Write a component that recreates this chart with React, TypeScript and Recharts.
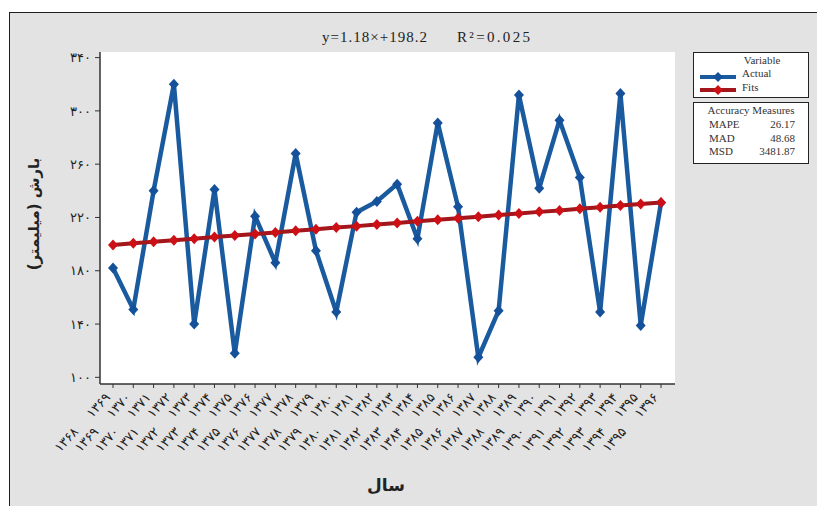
import React from 'react';
import { LineChart, Line, XAxis, YAxis, CartesianGrid } from 'recharts';

const periods = [
  '۱۳۶۸-۱۳۶۹', '۱۳۶۹-۱۳۷۰', '۱۳۷۰-۱۳۷۱', '۱۳۷۱-۱۳۷۲', '۱۳۷۲-۱۳۷۳', '۱۳۷۳-۱۳۷۴', '۱۳۷۴-۱۳۷۵',
  '۱۳۷۵-۱۳۷۶', '۱۳۷۶-۱۳۷۷', '۱۳۷۷-۱۳۷۸', '۱۳۷۸-۱۳۷۹', '۱۳۷۹-۱۳۸۰', '۱۳۸۰-۱۳۸۱', '۱۳۸۱-۱۳۸۲',
  '۱۳۸۲-۱۳۸۳', '۱۳۸۳-۱۳۸۴', '۱۳۸۴-۱۳۸۵', '۱۳۸۵-۱۳۸۶', '۱۳۸۶-۱۳۸۷', '۱۳۸۷-۱۳۸۸', '۱۳۸۸-۱۳۸۹',
  '۱۳۸۹-۱۳۹۰', '۱۳۹۰-۱۳۹۱', '۱۳۹۱-۱۳۹۲', '۱۳۹۲-۱۳۹۳', '۱۳۹۳-۱۳۹۴', '۱۳۹۴-۱۳۹۵', '۱۳۹۵-۱۳۹۶',
];

// rainfall (mm)
const actual = [182, 151, 240, 320, 140, 241, 118, 221, 186, 268, 195, 149, 224, 232, 245, 204, 291, 228, 115, 150, 312, 242, 293, 250, 149, 313, 139, 231];

// trend line y = 1.18x + 198.2
const fits = [199.4, 200.6, 201.7, 202.9, 204.1, 205.3, 206.5, 207.6, 208.8, 210.0, 211.2, 212.4, 213.5, 214.7, 215.9, 217.1, 218.3, 219.4, 220.6, 221.8, 223.0, 224.2, 225.3, 226.5, 227.7, 228.9, 230.1, 231.2];

const yTicks = [100, 140, 180, 220, 260, 300, 340];

const seriesNames = ['Actual', 'Fits'];
const accuracyLabels = ['MAPE', 'MAD', 'MSD'];
const accuracyValues = ['26.17', '48.68', '3481.87'];

const BLUE = '#1a5a9e';
const BLUE_DOT = '#15509a';
const RED = '#a3161b';
const RED_DOT = '#cc1016';

const data = periods.map((p, i) => ({ period: p, actual: actual[i], fits: fits[i] }));

const toFa = (v: number | string) => String(v).replace(/\d/g, (d) => '۰۱۲۳۴۵۶۷۸۹'[+d]);

const diamond = (color: string) => (props: any) => {
  const { cx, cy, index } = props;
  if (cx == null || cy == null) return <g key={index} />;
  return (
    <polygon
      key={index}
      points={`${cx},${cy - 5.5} ${cx + 5},${cy} ${cx},${cy + 5.5} ${cx - 5},${cy}`}
      fill={color}
    />
  );
};

const PeriodTick = (props: any) => {
  const { x, y, payload } = props;
  const [a, b] = String(payload.value).split('-');
  const st = { fontSize: 13, fill: '#222', fontFamily: 'DejaVu Sans', direction: 'ltr' as const };
  return (
    <g transform={`translate(${x - 2},${y + 8}) rotate(-47)`}>
      <text x={0} y={0} textAnchor="end" style={st}>{b}</text>
      <text x={-47} y={0} textAnchor="end" style={st}>{a}</text>
    </g>
  );
};

const LegendSample = ({ line, dot }: { line: string; dot: string }) => (
  <svg width={36} height={10} style={{ display: 'block' }}>
    <line x1={0} y1={5} x2={36} y2={5} stroke={line} strokeWidth={4} />
    <polygon points="18,0 23,5 18,10 13,5" fill={dot} />
  </svg>
);

export default function App() {
  const serif = '"Liberation Serif", "Times New Roman", serif';
  return (
    <div style={{ position: 'absolute', left: 0, top: 0, width: 817, height: 506, background: '#fff', overflow: 'hidden' }}>
      <div
        style={{
          position: 'absolute', left: 9, top: 12, width: 830, height: 520,
          background: '#e3e3e3', borderLeft: '1.5px solid #1e1e1e', borderTop: '1.5px solid #1e1e1e',
        }}
      />
      <div style={{ position: 'absolute', left: 0, top: 0 }}>
        <LineChart width={817} height={506} data={data} margin={{ top: 52, right: 142, bottom: 12, left: 40 }}>
          <CartesianGrid fill="#fff" horizontal={false} vertical={false} />
          <XAxis
            dataKey="period"
            interval={0}
            tick={<PeriodTick />}
            tickSize={4}
            height={110}
            padding={{ left: 13, right: 14 }}
            axisLine={{ stroke: '#333', strokeWidth: 1.5 }}
            tickLine={{ stroke: '#333' }}
          />
          <XAxis
            xAxisId="top"
            orientation="top"
            dataKey="period"
            height={0}
            tick={false}
            tickLine={false}
            axisLine={{ stroke: '#333', strokeWidth: 1.5 }}
          />
          <YAxis
            domain={[95, 344.2]}
            ticks={yTicks}
            tickFormatter={toFa}
            width={60}
            tickSize={5}
            tickMargin={4}
            tick={{ fontSize: 13, fill: '#222', fontFamily: 'DejaVu Sans' }}
            axisLine={{ stroke: '#333', strokeWidth: 1.5 }}
            tickLine={{ stroke: '#333' }}
          />
          <YAxis
            yAxisId="right"
            orientation="right"
            width={0}
            tick={false}
            tickLine={false}
            axisLine={{ stroke: '#333', strokeWidth: 1.5 }}
          />
          <Line
            dataKey="actual"
            name={seriesNames[0]}
            stroke={BLUE}
            strokeWidth={4.5}
            dot={diamond(BLUE_DOT)}
            activeDot={false}
            isAnimationActive={false}
          />
          <Line
            dataKey="fits"
            name={seriesNames[1]}
            stroke={RED}
            strokeWidth={4}
            dot={diamond(RED_DOT)}
            activeDot={false}
            isAnimationActive={false}
          />
        </LineChart>
      </div>

      <svg width={817} height={506} style={{ position: 'absolute', left: 0, top: 0, pointerEvents: 'none' }}>
        <text x={322} y={42} fontSize={15} fontFamily={serif} fill="#222" textLength={105}>
          y=1.18×+198.2
        </text>
        <text x={457} y={42} fontSize={15} fontFamily={serif} fill="#222" textLength={73}>
          R²=0.025
        </text>
        <text
          transform="translate(39,214) rotate(-90)"
          textAnchor="middle"
          fontSize={15}
          fontWeight="bold"
          fontFamily="DejaVu Sans"
          fill="#222"
          direction="rtl"
        >
          بارش (میلیمتر)
        </text>
        <text x={386} y={491} textAnchor="middle" fontSize={17} fontWeight="bold" fontFamily="DejaVu Sans" fill="#222" direction="rtl">
          سال
        </text>
      </svg>

      <div
        style={{
          position: 'absolute', left: 693, top: 52, width: 114, height: 44,
          border: '1.5px solid #222', background: '#fff', fontFamily: serif, fontSize: 11, color: '#333',
        }}
      >
        <div style={{ position: 'absolute', left: 0, right: 0, top: 1, textAlign: 'center', paddingLeft: 22 }}>Variable</div>
        <div style={{ position: 'absolute', left: 6, top: 19 }}>
          <LegendSample line={BLUE} dot={BLUE_DOT} />
        </div>
        <div style={{ position: 'absolute', left: 48, top: 14 }}>{seriesNames[0]}</div>
        <div style={{ position: 'absolute', left: 6, top: 32 }}>
          <LegendSample line={RED} dot={RED_DOT} />
        </div>
        <div style={{ position: 'absolute', left: 48, top: 28 }}>{seriesNames[1]}</div>
      </div>

      <div
        style={{
          position: 'absolute', left: 693, top: 102, width: 114, height: 60,
          border: '1.5px solid #222', background: '#fff', fontFamily: serif, fontSize: 11, color: '#333',
        }}
      >
        <div style={{ position: 'absolute', left: 0, right: 0, top: 1, textAlign: 'center' }}>Accuracy Measures</div>
        {accuracyLabels.map((l, i) => (
          <React.Fragment key={l}>
            <div style={{ position: 'absolute', left: 15, top: 15 + i * 13.5 }}>{l}</div>
            <div style={{ position: 'absolute', right: 13, top: 15 + i * 13.5 }}>{accuracyValues[i]}</div>
          </React.Fragment>
        ))}
      </div>
    </div>
  );
}
